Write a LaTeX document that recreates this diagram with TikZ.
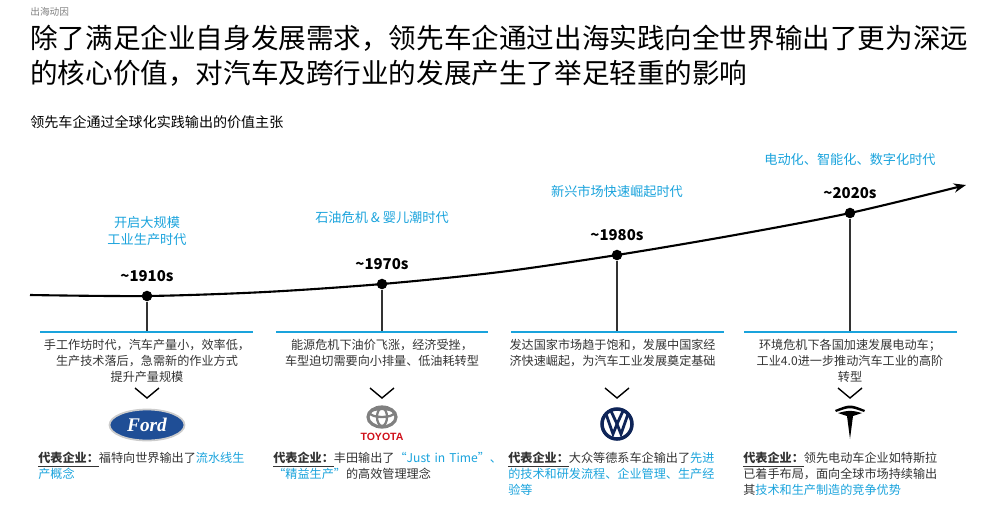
\documentclass[tikz,border=0pt]{standalone}
\usepackage{fontspec}
\setmainfont{Noto Sans CJK SC}
\newfontfamily\fordfont{Liberation Serif}
\newfontfamily\latinsans{Liberation Sans}
\XeTeXlinebreaklocale "zh"
\XeTeXlinebreakskip=0pt
\usetikzlibrary{arrows.meta,shapes.geometric}
\definecolor{cblue}{HTML}{1AA3DC}
\definecolor{tgray}{HTML}{333333}
\definecolor{fordblue}{HTML}{1F4E96}
\definecolor{vwblue}{HTML}{0E2457}
\definecolor{toyred}{HTML}{D0111B}
\tikzset{
  era/.style={text=cblue,font=\fontsize{7.5}{9.5}\selectfont,align=center},
  yr/.style={font=\bfseries\fontsize{8.5}{10}\selectfont,text=black},
  dot/.style={circle,fill=black,inner sep=0pt,minimum size=6pt},
  desc/.style={text=tgray,font=\fontsize{6.9}{9}\selectfont,align=center,text width=4.3cm,inner sep=0pt},
  rep/.style={text=tgray,font=\fontsize{6.9}{9}\selectfont,align=left,text width=4.6cm,anchor=north west,inner sep=0pt},
  bl/.style={cblue,line width=1.3pt},
  chev/.style={line width=0.8pt,black}
}
\newcommand{\rp}{\underline{\textbf{代表企业：}}}
\begin{document}
\begin{tikzpicture}[x=0.02cm,y=-0.02cm]
\useasboundingbox (0,0) rectangle (1000,511);
\node[anchor=west,text=gray,font=\fontsize{5.5}{6}\selectfont,inner sep=0] (hdr) at (30,12) {出海动因};
\node[anchor=north west,inner sep=0,align=left,font=\fontsize{15.7}{19.5}\selectfont] (title) at (30,25) {除了满足企业自身发展需求，领先车企通过出海实践向全世界输出了更为深远\\的核心价值，对汽车及跨行业的发展产生了举足轻重的影响};
\node[anchor=west,inner sep=0,font=\fontsize{8}{10}\selectfont] (sub) at (30,122) {领先车企通过全球化实践输出的价值主张};
\draw[line width=1.2pt,-{Stealth[length=7pt]}] plot[smooth,tension=0.5] coordinates {(30,295) (147,296) (265,292) (382,284) (500,272) (617,255) (735,235) (850,213) (966,185)};
\foreach \i/\x/\y/\yr in {1/147/296/1910s,2/382/284/1970s,3/617/255/1980s,4/850/213/2020s}{
  \node[dot] (d\i) at (\x,\y) {};
  \node[yr,anchor=south] (y\i) at (\x,\y-8) {\textasciitilde\yr};
  \coordinate (v\i) at (\x,332);
  \draw[line width=0.8pt,tgray] (d\i) -- (v\i);
}
\node[era,anchor=south] (e1) at (147,252) {开启大规模\\工业生产时代};
\node[era,anchor=south] (e2) at (382,230) {石油危机 \& 婴儿潮时代};
\node[era,anchor=south] (e3) at (617,204) {新兴市场快速崛起时代};
\node[era,anchor=south] (e4) at (850,172) {电动化、智能化、数字化时代};
\draw[bl] (40,332) -- (253,332);
\draw[bl] (276,332) -- (488,332);
\draw[bl] (511,332) -- (724,332);
\draw[bl] (744,332) -- (957,332);
\node[desc,anchor=north] (t1) at (147,339) {手工作坊时代，汽车产量小，效率低，\\生产技术落后，急需新的作业方式\\提升产量规模};
\node[desc,anchor=north] (t2) at (382,339) {能源危机下油价飞涨，经济受挫，\\车型迫切需要向小排量、低油耗转型};
\node[desc,anchor=north,align=left] (t3) at (617,339) {发达国家市场趋于饱和，发展中国家经\\济快速崛起，为汽车工业发展奠定基础};
\node[desc,anchor=north] (t4) at (850,339) {环境危机下各国加速发展电动车；\\工业4.0进一步推动汽车工业的高阶\\转型};
\foreach \x in {147,382,617,850}{\draw[chev] (\x-12,388) -- (\x,398) -- (\x+12,388);}
% Ford
\node[ellipse,draw=gray!40,line width=1pt,fill=fordblue,minimum width=1.5cm,minimum height=0.62cm,inner sep=0,text=white,font=\fordfont\itshape\bfseries\fontsize{11}{11}\selectfont] (ford) at (147,425) {Ford};
% Toyota
\draw[gray,line width=1.8pt] (382,417) ellipse (14 and 10);
\draw[gray,line width=1.3pt] (382,417) ellipse (5 and 9);
\draw[gray,line width=1.3pt] (382,413) ellipse (12 and 4);
\node[text=toyred,font=\latinsans\bfseries\fontsize{6}{6}\selectfont,inner sep=0] (toy) at (382,437) {TOYOTA};
% VW
\draw[vwblue,line width=2pt] (617,424) circle (15);
\draw[vwblue,line width=1.6pt] (606,414) -- (613,434) -- (617,424) -- (621,434) -- (628,414);
\draw[vwblue,line width=1.6pt] (611,411) -- (617,424) -- (623,411);
% Tesla
\fill[black] (835,410) .. controls (850,404) .. (865,410) -- (864,412) .. controls (850,407) .. (836,412) -- cycle;
\fill[black] (838,413) .. controls (850,410) .. (862,413) -- (853,416) -- (850,439) -- (847,416) -- cycle;
% bottom
\node[rep] (r1) at (38,452) {\rp 福特向世界输出了\textcolor{cblue}{流水线生\\产概念}};
\node[rep] (r2) at (273,452) {\rp 丰田输出了\textcolor{cblue}{“Just in Time”、\\“精益生产”}的高效管理理念};
\node[rep] (r3) at (508,452) {\rp 大众等德系车企输出了\textcolor{cblue}{先进\\的技术和研发流程、企业管理、生产经\\验等}};
\node[rep] (r4) at (743,452) {\rp 领先电动车企业如特斯拉\\已着手布局，面向全球市场持续输出\\其\textcolor{cblue}{技术和生产制造的竞争优势}};
\end{tikzpicture}
\end{document}
